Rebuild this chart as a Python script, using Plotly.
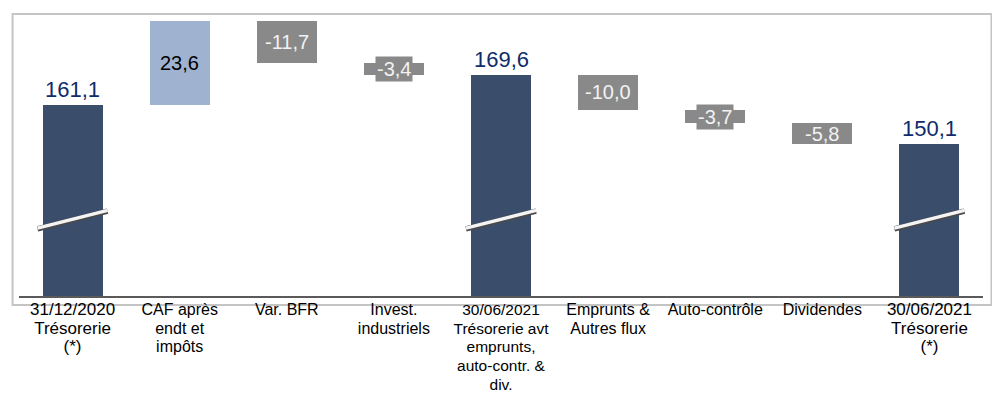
import plotly.graph_objects as go

# ---- data ----
categories = [
    "31/12/2020<br>Trésorerie<br>(*)",
    "CAF après<br>endt et<br>impôts",
    "Var. BFR",
    "Invest.<br>industriels",
    "30/06/2021<br>Trésorerie avt<br>emprunts,<br>auto-contr. &<br>div.",
    "Emprunts &<br>Autres flux",
    "Auto-contrôle",
    "Dividendes",
    "30/06/2021<br>Trésorerie<br>(*)",
]
values = [161.1, 23.6, -11.7, -3.4, 169.6, -10.0, -3.7, -5.8, 150.1]
kinds = ["total", "relative", "relative", "relative", "total",
         "relative", "relative", "relative", "total"]
labels = ["161,1", "23,6", "-11,7", "-3,4", "169,6", "-10,0", "-3,7", "-5,8", "150,1"]

# ---- style ----
FONT = "Arial, Liberation Sans, sans-serif"
C_TOTAL = "#3a4d6b"
C_POS = "#9fb3d1"
C_NEG = "#898989"
C_TOTAL_TXT = "#0f2c6b"
Y_MIN, Y_MAX = 107.3, 186.7
BAR_W = 0.56
TICK_SIZES = [17, 16, 16, 16, 15.5, 16, 16, 16, 17]

xs = list(range(len(values)))
bases, heights, colors = [], [], []
running = 0.0
for v, k in zip(values, kinds):
    if k == "total":
        bases.append(0)
        heights.append(v)
        colors.append(C_TOTAL)
        running = v
    else:
        bases.append(running)
        heights.append(v)
        colors.append(C_POS if v > 0 else C_NEG)
        running += v

fig = go.Figure()
fig.add_trace(go.Bar(
    x=xs, y=heights, base=bases, width=BAR_W,
    marker=dict(color=colors, line=dict(width=0)),
    hoverinfo="skip", showlegend=False,
))

# axis-break marks on total bars
break_val = 128.7
for i, k in enumerate(kinds):
    if k != "total":
        continue
    bx = [i - 0.327, i + 0.327]
    by = [break_val - 2.5, break_val + 2.5]
    fig.add_trace(go.Scatter(x=bx, y=by, mode="lines",
                             line=dict(color="#4a4a4a", width=5.5),
                             hoverinfo="skip", showlegend=False, cliponaxis=False))
    fig.add_trace(go.Scatter(x=bx, y=[b + 0.2 for b in by], mode="lines",
                             line=dict(color="#f4f4f4", width=3.5),
                             hoverinfo="skip", showlegend=False, cliponaxis=False))

# value labels
annotations = []
for i, (b, h, k, lab) in enumerate(zip(bases, heights, kinds, labels)):
    if k == "total":
        annotations.append(dict(x=i, y=b + h, xref="x", yref="y", text=lab,
                                showarrow=False, yanchor="bottom", yshift=1,
                                font=dict(family=FONT, size=22, color=C_TOTAL_TXT)))
    elif h > 0:
        annotations.append(dict(x=i, y=b + h / 2, xref="x", yref="y", text=lab,
                                showarrow=False, yanchor="middle",
                                font=dict(family=FONT, size=20, color="#000000")))
    else:
        small = abs(h) < 5
        annotations.append(dict(x=i, y=b + h / 2, xref="x", yref="y", text=lab,
                                showarrow=False, yanchor="middle",
                                bgcolor=C_NEG if small else None, borderpad=1,
                                font=dict(family=FONT, size=20, color="#f2f2f2")))

# tick labels with per-label glyph size
ticktext = []
for c, sz in zip(categories, TICK_SIZES):
    ticktext.append("<br>".join(
        f"<span style='font-size:{sz}px'>{ln}</span>" for ln in c.split("<br>")))

# page body has an 8px default margin -> figure is 992x390 placed at (8, 8)
fig.update_layout(
    width=992, height=390,
    margin=dict(l=10.5, r=17.4, t=6, b=102, autoexpand=False),
    paper_bgcolor="white", plot_bgcolor="white",
    font=dict(family=FONT, color="#000000"),
    bargap=0,
    annotations=annotations,
    xaxis=dict(range=[-0.5, len(values) - 0.5], tickvals=xs, ticktext=ticktext,
               tickfont=dict(family=FONT, size=14.4, color="#000000"),
               showgrid=False, zeroline=False, showline=True, automargin=False,
               ticklabelstandoff=0,
               linecolor="#5a5a5a", linewidth=1.5, ticks="", fixedrange=True),
    yaxis=dict(range=[Y_MIN, Y_MAX], visible=False, fixedrange=True),
    shapes=[dict(type="rect", xref="paper", yref="paper",
                 x0=-0.0067, x1=1.0088, y0=-0.032, y1=1.0,
                 line=dict(color="#c4c4c4", width=2), fillcolor="rgba(0,0,0,0)",
                 layer="below")],
)

fig.write_html("out.html")
